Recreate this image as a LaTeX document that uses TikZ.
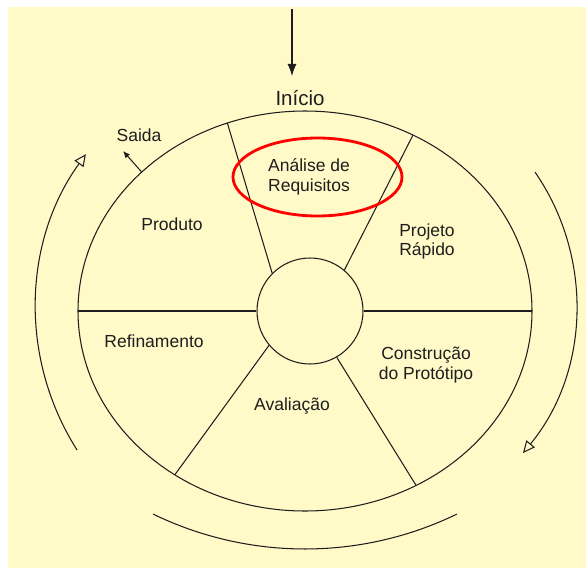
\documentclass[tikz,border=0pt]{standalone}
\usepackage{fontspec}
\setmainfont{Liberation Sans}
\usetikzlibrary{arrows.meta,calc}
\definecolor{bgyellow}{HTML}{FFFAC8}
\definecolor{ink}{HTML}{1E1E1E}
\begin{document}
\begin{tikzpicture}[x=1pt,y=-1pt,
  line/.style={draw=ink, line width=1.05pt},
  lbl/.style={font=\fontsize{17.5}{20}\selectfont, text=ink, align=center, inner sep=0pt},
  opentip/.style={-{Triangle[open,length=12pt,width=11pt,line width=1.05pt]}},
]
\useasboundingbox (0,0) rectangle (586,578);
\fill[white] (0,0) rectangle (586,578);
\fill[bgyellow] (8,7) rectangle (586,568);

% main wheel
\coordinate (C) at (305,311);
\draw[line] (C) ellipse[x radius=227, y radius=200];
\node[circle, line, minimum size=106pt, inner sep=0pt] (hub) at (310,311) {};

\coordinate (eTL) at ($(C)+(250:227 and 200)$);
\coordinate (eTR) at ($(C)+(298.4:227 and 200)$);
\coordinate (eBL) at ($(C)+(125:227 and 200)$);
\coordinate (eBR) at ($(C)+(60.7:227 and 200)$);
\coordinate (eL)  at ($(C)+(180:227 and 200)$);
\coordinate (eR)  at ($(C)+(0:227 and 200)$);
\coordinate (eS)  at ($(C)+(224:227 and 200)$);

\draw[line] (hub.135) -- (eTL);
\draw[line] (hub.50.5) -- (eTR);
\draw[line] (hub.220) -- (eBL);
\draw[line] (hub.300) -- (eBR);
\draw[line] (hub.west) -- (eL);
\draw[line] (hub.east) -- (eR);

% highlight
\draw[draw=red, line width=2.8pt] (317.5,177) ellipse[x radius=84.5, y radius=39];

% outer arcs
\draw[line, opentip] ($(299.3,308.6)+(147.5:263.4)$) arc[start angle=147.5, end angle=215.9, radius=263.4];
\draw[line, opentip] ($(343,304.6)+(-34.6:233.3)$) arc[start angle=-34.6, end angle=39.5, radius=233.3];
\draw[line] ($(305,201)+(64.1:348)$) arc[start angle=64.1, end angle=115.9, radius=348];

% entry and exit
\coordinate (topstart) at (292,9);
\coordinate (toptip) at (292,76);
\draw[line, -{Latex[length=12pt,width=9pt]}] (topstart) -- (toptip);
\coordinate (saidatip) at (123,151);
\draw[line, -{Latex[length=7pt,width=6pt]}] (eS) -- (saidatip);

% labels
\node[lbl, font=\fontsize{20.5}{24}\selectfont] (inicio) at (300,98) {Início};
\node[lbl] (saida) at (139,135) {Saida};
\node[lbl] (analise) at (309,177) {Análise de\\Requisitos};
\node[lbl] (produto) at (172,224) {Produto};
\node[lbl, font=\fontsize{17.5}{19}\selectfont] (projeto) at (427,241) {Projeto\\Rápido};
\node[lbl] (refin) at (154,341) {Refinamento};
\node[lbl] (constr) at (426,365) {Construção\\do Protótipo};
\node[lbl] (aval) at (292,406) {Avaliação};
\end{tikzpicture}
\end{document}
